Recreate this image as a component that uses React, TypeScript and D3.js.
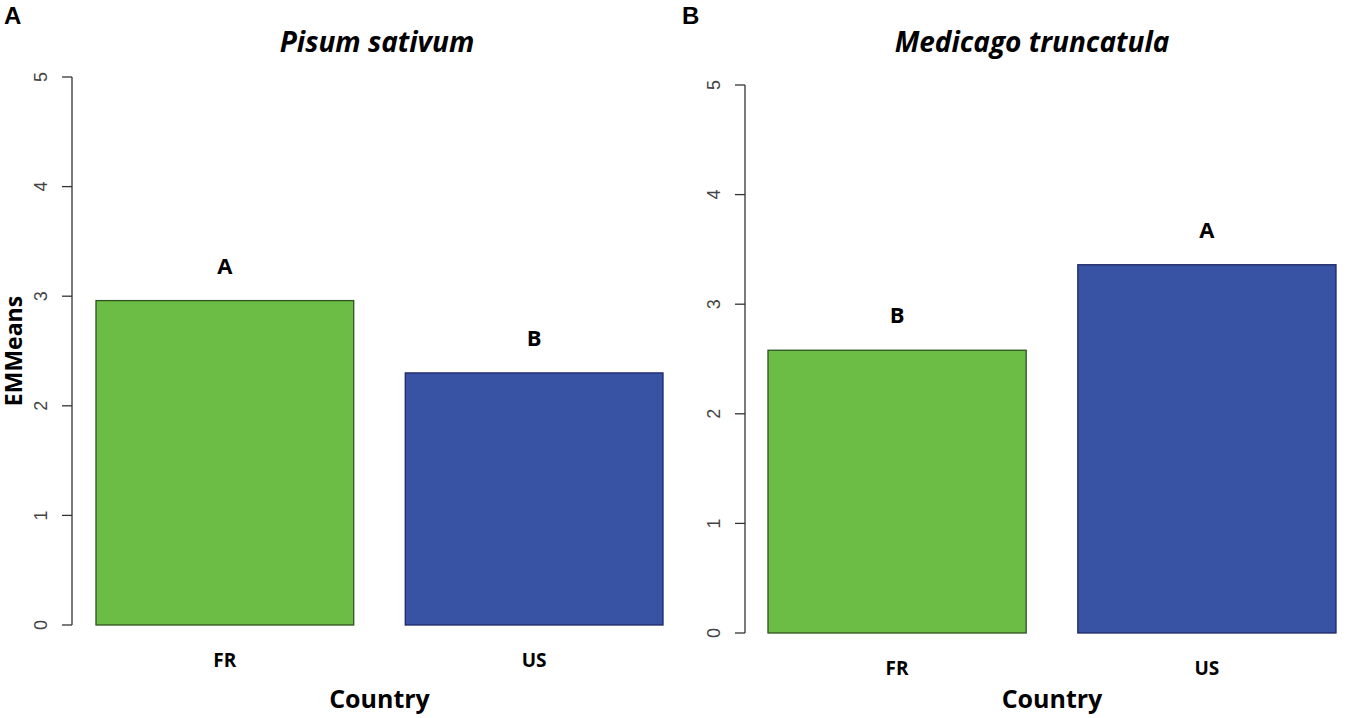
import React from 'react';
import * as d3 from 'd3';

// Data
const countries = ['FR', 'US'];
const pisumValues = [2.96, 2.3];
const pisumLetters = ['A', 'B'];
const medicagoValues = [2.58, 3.36];
const medicagoLetters = ['B', 'A'];
const yTicks = [0, 1, 2, 3, 4, 5];
const barColors = ['#6bbd45', '#3953a4'];
const barStrokes = ['#2e5220', '#1c2766'];

const FONT = '"Open Sans", Lato, sans-serif';

interface PanelProps {
  tag: string;
  title: string;
  values: number[];
  letters: string[];
  axisX: number;
  barsLeft: number;
  barsRight: number;
  yTop: number;
  yBottom: number;
  tagX: number;
  titleX: number;
  catY: number;
  showYLabel: boolean;
}

function Panel(p: PanelProps) {
  const y = d3.scaleLinear().domain([0, 5]).range([p.yBottom, p.yTop]);
  const x = d3
    .scaleBand<string>()
    .domain(countries)
    .range([p.barsLeft, p.barsRight])
    .paddingInner(0.2 / 1.2)
    .paddingOuter(0);
  const mid = (p.barsLeft + p.barsRight) / 2;

  return (
    <g>
      <text
        x={p.tagX}
        y={24}
        fontFamily="'Liberation Sans', Arial, sans-serif"
        fontWeight={700}
        fontSize={24}
        fill="#000"
      >
        {p.tag}
      </text>
      <text
        x={p.titleX}
        y={52}
        textAnchor="middle"
        fontFamily={FONT}
        fontWeight={700}
        fontStyle="italic"
        fontSize={28}
        fill="#000"
      >
        {p.title}
      </text>

      {/* y axis, R style: line only across the tick range */}
      <line x1={p.axisX} x2={p.axisX} y1={y(0)} y2={y(5)} stroke="#333" strokeWidth={1.3} />
      {yTicks.map((t) => (
        <g key={t}>
          <line x1={p.axisX - 10} x2={p.axisX} y1={y(t)} y2={y(t)} stroke="#333" strokeWidth={1.3} />
          <text
            transform={`translate(${p.axisX - 25},${y(t)}) rotate(-90)`}
            textAnchor="middle"
            fontFamily="'Liberation Sans', Arial, sans-serif"
            fontSize={18}
            fill="#444"
          >
            {t}
          </text>
        </g>
      ))}

      {countries.map((c, i) => (
        <g key={c}>
          <rect
            x={x(c)}
            y={y(p.values[i])}
            width={x.bandwidth()}
            height={y(0) - y(p.values[i])}
            fill={barColors[i]}
            stroke={barStrokes[i]}
            strokeWidth={1.3}
          />
          <text
            x={(x(c) as number) + x.bandwidth() / 2}
            y={y(p.values[i]) - 27}
            textAnchor="middle"
            fontFamily={FONT}
            fontWeight={700}
            fontSize={22}
            fill="#000"
          >
            {p.letters[i]}
          </text>
          <text
            x={(x(c) as number) + x.bandwidth() / 2}
            y={p.catY}
            textAnchor="middle"
            fontFamily={FONT}
            fontWeight={700}
            fontSize={19}
            fill="#000"
          >
            {c}
          </text>
        </g>
      ))}

      <text
        x={mid}
        y={708}
        textAnchor="middle"
        fontFamily={FONT}
        fontWeight={700}
        fontSize={25}
        fill="#000"
      >
        Country
      </text>

      {p.showYLabel && (
        <text
          transform={`translate(22,${(p.yTop + p.yBottom) / 2}) rotate(-90)`}
          textAnchor="middle"
          fontFamily={FONT}
          fontWeight={700}
          fontSize={23}
          fill="#000"
        >
          EMMeans
        </text>
      )}
    </g>
  );
}

export default function App() {
  return (
    <>
      <style>{`body{margin:0;}`}</style>
      <svg width={1348} height={718} style={{ display: 'block', background: '#fff' }}>
        <Panel
          tag="A"
          title="Pisum sativum"
          values={pisumValues}
          letters={pisumLetters}
          axisX={72}
          barsLeft={96}
          barsRight={663}
          yTop={77}
          yBottom={625}
          tagX={4}
          titleX={377}
          catY={667}
          showYLabel={true}
        />
        <Panel
          tag="B"
          title="Medicago truncatula"
          values={medicagoValues}
          letters={medicagoLetters}
          axisX={745}
          barsLeft={768}
          barsRight={1336}
          yTop={85}
          yBottom={633}
          tagX={682}
          titleX={1032}
          catY={675}
          showYLabel={false}
        />
      </svg>
    </>
  );
}
